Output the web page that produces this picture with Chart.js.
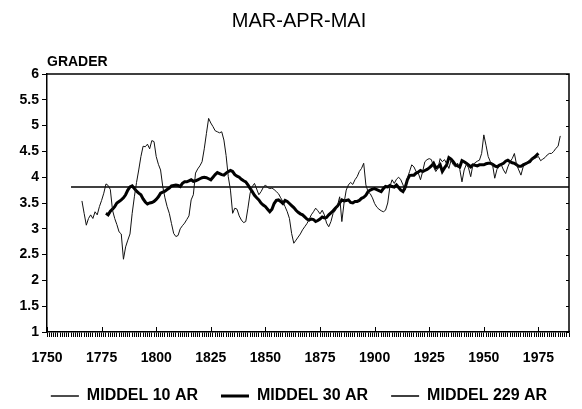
<!DOCTYPE html>
<html>
<head>
<meta charset="utf-8">
<title>MAR-APR-MAI</title>
<script src="https://cdn.jsdelivr.net/npm/chart.js@4.4.1/dist/chart.umd.min.js"></script>
<style>
    body { margin: 0; background: #fff; }
    #wrap { width: 582px; height: 409px; position: relative; }
</style>
</head>
<body>
<div id="wrap"><canvas id="chart"></canvas></div>
<script>
// Spring temperature (March-April-May), moving averages, degrees C

const START_10 = 1766;   // first year of the 10-year mean
const temp10 = [
    3.54, 3.30, 3.07, 3.20, 3.27, 3.20, 3.33, 3.27, 3.43, 3.55,
    3.69, 3.87, 3.84, 3.76, 3.36, 3.20, 3.08, 2.94, 2.90, 2.41,
    2.65, 2.78, 2.90, 3.30, 3.62, 3.90, 4.14, 4.40, 4.60, 4.59,
    4.64, 4.55, 4.71, 4.69, 4.40, 4.25, 4.14, 3.82, 3.60, 3.43,
    3.30, 3.10, 2.91, 2.85, 2.87, 3.00, 3.06, 3.11, 3.18, 3.25,
    3.56, 3.66, 4.08, 4.16, 4.22, 4.30, 4.55, 4.85, 5.14, 5.05,
    4.98, 4.90, 4.88, 4.86, 4.88, 4.72, 4.42, 4.01, 3.75, 3.30,
    3.40, 3.38, 3.25, 3.17, 3.12, 3.14, 3.40, 3.69, 3.82, 3.88,
    3.77, 3.66, 3.72, 3.80, 3.85, 3.80, 3.78, 3.79, 3.76, 3.72,
    3.68, 3.60, 3.53, 3.43, 3.33, 3.20, 2.91, 2.72, 2.78, 2.84,
    2.90, 2.98, 3.04, 3.10, 3.18, 3.27, 3.33, 3.40, 3.35, 3.29,
    3.36, 3.27, 3.11, 3.04, 3.14, 3.30, 3.35, 3.45, 3.62, 3.14,
    3.50, 3.75, 3.85, 3.90, 3.86, 3.95, 4.01, 4.11, 4.17, 4.27,
    3.85, 3.72, 3.68, 3.60, 3.49, 3.42, 3.38, 3.35, 3.33, 3.36,
    3.50, 3.82, 3.95, 3.88, 3.96, 4.00, 3.95, 3.85, 3.75, 3.98,
    4.11, 4.24, 4.20, 4.11, 4.08, 3.95, 4.11, 4.30, 4.34, 4.36,
    4.34, 4.20, 4.11, 4.17, 4.36, 4.30, 4.34, 4.26, 4.17, 4.33,
    4.24, 4.20, 4.27, 4.15, 3.91, 4.14, 4.25, 4.18, 4.01, 4.24,
    4.28, 4.31, 4.33, 4.46, 4.82, 4.62, 4.40, 4.30, 4.24, 3.98,
    4.15, 4.20, 4.24, 4.14, 4.07, 4.20, 4.30, 4.36, 4.46, 4.24,
    4.14, 4.04, 4.20, 4.24, 4.30, 4.33, 4.36, 4.36, 4.38, 4.40,
    4.32, 4.35, 4.38, 4.43, 4.46, 4.46, 4.50, 4.56, 4.60, 4.80
];

const START_30 = 1777;   // first year of the 30-year mean
const temp30 = [
    3.30, 3.27, 3.34, 3.38, 3.43, 3.50, 3.53, 3.56, 3.60, 3.66,
    3.75, 3.81, 3.83, 3.78, 3.73, 3.69, 3.66, 3.58, 3.52, 3.48,
    3.50, 3.51, 3.53, 3.57, 3.62, 3.69, 3.71, 3.73, 3.76, 3.79,
    3.83, 3.84, 3.85, 3.84, 3.82, 3.88, 3.91, 3.91, 3.93, 3.95,
    3.92, 3.93, 3.95, 3.97, 3.99, 4.00, 3.99, 3.97, 3.95, 4.00,
    4.05, 4.09, 4.07, 4.05, 4.04, 4.08, 4.11, 4.13, 4.11, 4.05,
    4.02, 4.00, 3.96, 3.93, 3.91, 3.85, 3.78, 3.72, 3.65, 3.60,
    3.56, 3.50, 3.46, 3.43, 3.38, 3.33, 3.38, 3.49, 3.55, 3.56,
    3.53, 3.49, 3.55, 3.53, 3.49, 3.45, 3.41, 3.36, 3.32, 3.29,
    3.27, 3.23, 3.19, 3.17, 3.19, 3.18, 3.14, 3.16, 3.19, 3.23,
    3.21, 3.22, 3.27, 3.31, 3.35, 3.40, 3.44, 3.50, 3.56, 3.54,
    3.55, 3.56, 3.51, 3.50, 3.53, 3.53, 3.55, 3.59, 3.61, 3.65,
    3.72, 3.75, 3.77, 3.78, 3.76, 3.74, 3.72, 3.78, 3.82, 3.81,
    3.84, 3.82, 3.81, 3.85, 3.80, 3.75, 3.72, 3.80, 3.95, 4.03,
    4.04, 4.04, 4.08, 4.10, 4.13, 4.11, 4.13, 4.15, 4.18, 4.22,
    4.27, 4.18, 4.20, 4.24, 4.11, 4.18, 4.24, 4.38, 4.35, 4.30,
    4.24, 4.22, 4.20, 4.32, 4.30, 4.27, 4.24, 4.20, 4.24, 4.23,
    4.22, 4.24, 4.24, 4.24, 4.26, 4.27, 4.27, 4.25, 4.22, 4.20,
    4.23, 4.25, 4.27, 4.31, 4.33, 4.30, 4.28, 4.27, 4.24, 4.21,
    4.21, 4.24, 4.26, 4.28, 4.30, 4.35, 4.38, 4.42, 4.46
];

// 229-year mean (1761-1989)
const years229 = [1761, 1989];
const temp229 = [3.81, 3.81];

const seriesNames = ['MIDDEL 10 AR', 'MIDDEL 30 AR', 'MIDDEL 229 AR'];
const labelYears = [1750, 1775, 1800, 1825, 1850, 1875, 1900, 1925, 1950, 1975];
const X_MIN = 1750;
const X_MAX = 1989;

const FONT = "'Liberation Sans', Arial, Helvetica, sans-serif";
Chart.defaults.font.family = FONT;
Chart.defaults.color = '#000';

function toPoints(start, values) {
    return values.map((v, i) => ({ x: start + i, y: v }));
}

// frame, inward tick marks and the "GRADER" label
const framePlugin = {
    id: 'frame',
    afterDraw(chart) {
        const { ctx, chartArea: a, scales } = chart;
        ctx.save();
        ctx.strokeStyle = '#000';
        ctx.lineWidth = 1.5;
        ctx.beginPath();
        ctx.moveTo(a.left, a.top);
        ctx.lineTo(a.right, a.top);
        ctx.lineTo(a.right, a.bottom);
        ctx.stroke();

        ctx.lineWidth = 1;
        ctx.beginPath();
        labelYears.forEach(yr => {
            const px = Math.round(scales.x.getPixelForValue(yr)) + 0.5;
            ctx.moveTo(px, a.bottom);
            ctx.lineTo(px, a.bottom - 5);
        });
        scales.y.ticks.forEach(t => {
            const py = Math.round(scales.y.getPixelForValue(t.value)) + 0.5;
            ctx.moveTo(a.right, py);
            ctx.lineTo(a.right - 3, py);
        });
        ctx.stroke();

        ctx.font = 'bold 14px ' + FONT;
        ctx.fillStyle = '#000';
        ctx.textAlign = 'left';
        ctx.textBaseline = 'middle';
        ctx.fillText('GRADER', a.left, 62);
        ctx.restore();
    }
};

const ctx = document.getElementById('chart').getContext('2d');
new Chart(ctx, {
    type: 'line',
    data: {
        datasets: [
            {
                label: seriesNames[0],
                data: toPoints(START_10, temp10),
                borderColor: '#111',
                backgroundColor: '#111',
                borderWidth: 1,
                pointRadius: 0,
                tension: 0
            },
            {
                label: seriesNames[1],
                data: toPoints(START_30, temp30),
                borderColor: '#000',
                backgroundColor: '#000',
                borderWidth: 3,
                pointRadius: 0,
                tension: 0
            },
            {
                label: seriesNames[2],
                data: years229.map((yr, i) => ({ x: yr, y: temp229[i] })),
                borderColor: '#000',
                backgroundColor: '#000',
                borderWidth: 1.5,
                pointRadius: 0,
                tension: 0
            }
        ]
    },
    options: {
        responsive: true,
        maintainAspectRatio: false,
        animation: false,
        layout: {
            padding: { left: 18, right: 2, top: 0, bottom: -5 }
        },
        plugins: {
            title: {
                display: true,
                text: 'MAR-APR-MAI',
                color: '#000',
                font: { size: 20, weight: 'normal' },
                padding: { top: 9, bottom: 41 }
            },
            legend: {
                position: 'bottom',
                labels: {
                    boxWidth: 28,
                    boxHeight: 0,
                    padding: 23,
                    color: '#000',
                    font: { size: 16, weight: 'bold' }
                }
            },
            tooltip: { enabled: false }
        },
        scales: {
            x: {
                type: 'linear',
                min: X_MIN,
                max: X_MAX,
                afterFit(scale) { scale.height = 33; },
                border: { display: true, color: '#000', width: 1.5 },
                grid: {
                    drawOnChartArea: false,
                    drawTicks: true,
                    tickLength: 5,
                    color: '#000',
                    lineWidth: 1
                },
                ticks: {
                    stepSize: 1,
                    autoSkip: false,
                    maxRotation: 0,
                    minRotation: 0,
                    padding: 13,
                    font: { size: 14, weight: 'bold' },
                    callback: function(value) {
                        return labelYears.includes(value) ? String(value) : '';
                    }
                }
            },
            y: {
                min: 1,
                max: 6,
                afterFit(scale) { scale.width = 29; },
                border: { display: true, color: '#000', width: 1.5 },
                grid: {
                    drawOnChartArea: false,
                    drawTicks: true,
                    tickLength: 5,
                    color: '#000',
                    lineWidth: 1
                },
                ticks: {
                    stepSize: 0.5,
                    padding: 3,
                    font: { size: 14, weight: 'bold' },
                    callback: function(value) {
                        return String(value);
                    }
                }
            }
        }
    },
    plugins: [framePlugin]
});
</script>
</body>
</html>
